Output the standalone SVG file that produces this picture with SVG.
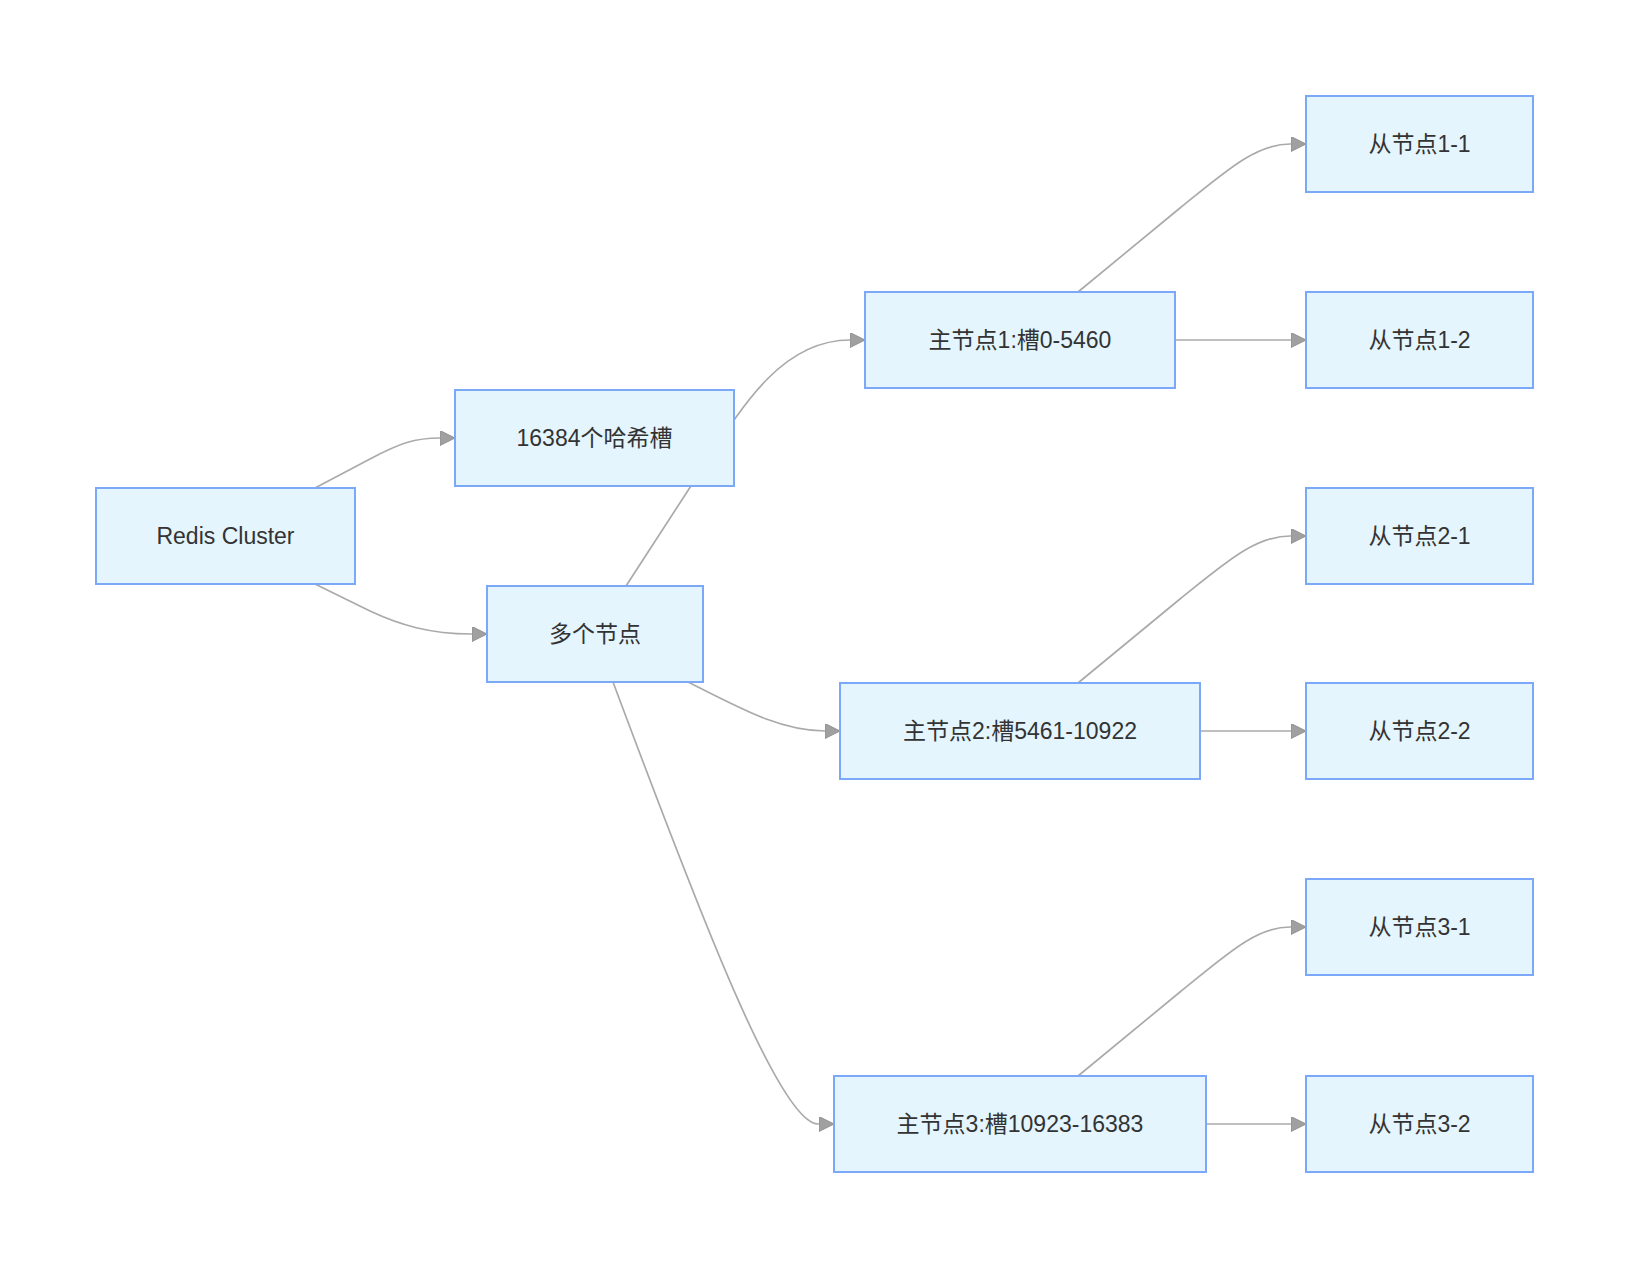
<svg xmlns="http://www.w3.org/2000/svg" width="1628" height="1268" viewBox="0 0 1628 1268">
<style>
.node rect{fill:#e4f5fe;stroke:#7ba8f8;stroke-width:2}
.node text{font-family:"Liberation Sans","Noto Sans CJK SC",sans-serif;font-size:23px;fill:#333333;text-anchor:middle;dominant-baseline:central}
.edge{fill:none;stroke:#aaaaaa;stroke-width:1.7;marker-end:url(#arrow)}
</style>
<defs>
<marker id="arrow" viewBox="0 0 10 10" refX="10" refY="5" markerUnits="userSpaceOnUse" markerWidth="15" markerHeight="15" orient="auto">
<path d="M0,0 L10,5 L0,10 z" fill="#a0a0a0" stroke="#8c8c8c" stroke-width="0.6"/>
</marker>
</defs>
<rect width="1628" height="1268" fill="#ffffff"/>
<g id="connectors">
<path class="edge" d="M315,488 L370,459 C400,443 415,438 440,438 L455,438"/>
<path class="edge" d="M315,584 L370,611 C400,625 430,634 471,634 L487,634"/>
<path class="edge" d="M626,586 L700,472 C740,410 780,340 850,340 L865,340"/>
<path class="edge" d="M688,682 C740,708 780,731 825,731 L840,731"/>
<path class="edge" d="M613,682 C700,915 780,1124 818,1124 L834,1124"/>
<path class="edge" d="M1078,292 L1180,208 C1225,172 1255,144 1290,144 L1306,144"/>
<path class="edge" d="M1175,340 L1306,340"/>
<path class="edge" d="M1078,683 L1180,599 C1225,563 1255,536 1290,536 L1306,536"/>
<path class="edge" d="M1200,731 L1306,731"/>
<path class="edge" d="M1078,1076 L1180,992 C1225,956 1255,927 1290,927 L1306,927"/>
<path class="edge" d="M1206,1124 L1306,1124"/>
</g>
<g id="node-redis" class="node"><rect x="96" y="488" width="259" height="96"/><text x="225.5" y="536">Redis Cluster</text></g>
<g id="node-slots" class="node"><rect x="455" y="390" width="279" height="96"/><text x="594.5" y="438">16384个哈希槽</text></g>
<g id="node-nodes" class="node"><rect x="487" y="586" width="216" height="96"/><text x="595" y="634">多个节点</text></g>
<g id="node-master1" class="node"><rect x="865" y="292" width="310" height="96"/><text x="1020" y="340">主节点1:槽0-5460</text></g>
<g id="node-master2" class="node"><rect x="840" y="683" width="360" height="96"/><text x="1020" y="731">主节点2:槽5461-10922</text></g>
<g id="node-master3" class="node"><rect x="834" y="1076" width="372" height="96"/><text x="1020" y="1124">主节点3:槽10923-16383</text></g>
<g id="node-slave11" class="node"><rect x="1306" y="96" width="227" height="96"/><text x="1419.5" y="144">从节点1-1</text></g>
<g id="node-slave12" class="node"><rect x="1306" y="292" width="227" height="96"/><text x="1419.5" y="340">从节点1-2</text></g>
<g id="node-slave21" class="node"><rect x="1306" y="488" width="227" height="96"/><text x="1419.5" y="536">从节点2-1</text></g>
<g id="node-slave22" class="node"><rect x="1306" y="683" width="227" height="96"/><text x="1419.5" y="731">从节点2-2</text></g>
<g id="node-slave31" class="node"><rect x="1306" y="879" width="227" height="96"/><text x="1419.5" y="927">从节点3-1</text></g>
<g id="node-slave32" class="node"><rect x="1306" y="1076" width="227" height="96"/><text x="1419.5" y="1124">从节点3-2</text></g>
</svg>
